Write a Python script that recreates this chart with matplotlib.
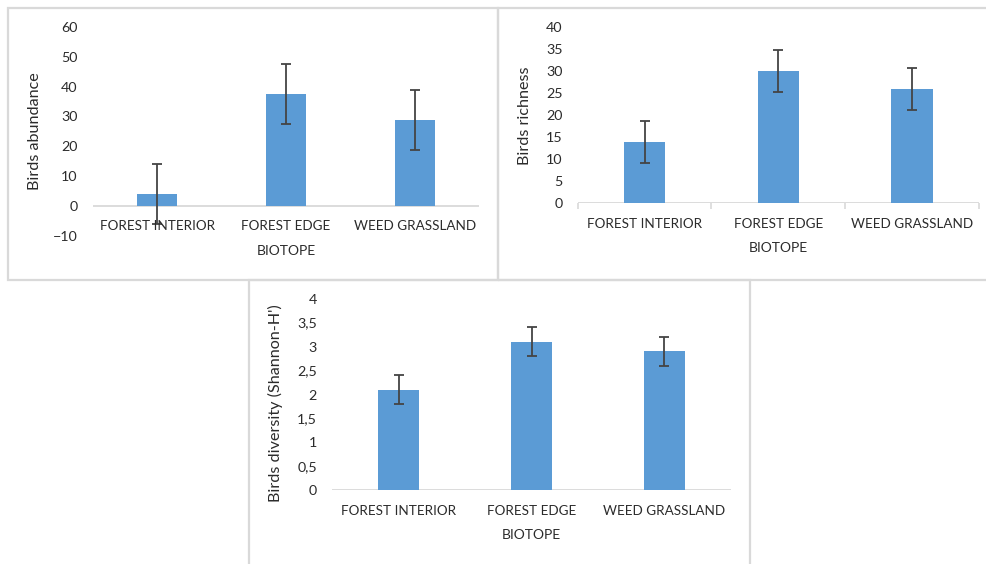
import matplotlib.pyplot as plt
from matplotlib.patches import Rectangle
from matplotlib.ticker import FuncFormatter

# data
biotopes = ["FOREST INTERIOR", "FOREST EDGE", "WEED GRASSLAND"]
abundance = [4, 37.5, 28.7]
abundance_err = [10, 10, 10]
richness = [14, 30, 26]
richness_err = [4.8, 4.8, 4.8]
diversity = [2.1, 3.1, 2.9]
diversity_err = [0.3, 0.3, 0.3]

BAR = "#5B9BD5"
TXT = "#2b2b2b"
GRID = "#d9d9d9"
plt.rcParams["font.family"] = ["Lato", "DejaVu Sans"]

W, H = 986, 564
fig = plt.figure(figsize=(W / 100, H / 100), dpi=100)


def px_box(x0, y0, x1, y1):
    # pixel box (top-left origin) -> figure fraction rect
    return [x0 / W, 1 - y1 / H, (x1 - x0) / W, (y1 - y0) / H]


# panel frames
for x0, y0, x1, y1 in [(8, 8, 498, 280), (498, 8, 990, 280), (249, 280, 750, 570)]:
    fig.patches.append(Rectangle((x0 / W, 1 - y1 / H), (x1 - x0) / W, (y1 - y0) / H,
                                 transform=fig.transFigure, fill=False,
                                 edgecolor=GRID, linewidth=1.6, zorder=0))


def panel(rect, values, errs, ylim, step, ylabel, ylab_x, ylab_y=0.5, ticks=False, comma=False):
    ax = fig.add_axes(rect)
    x = range(len(biotopes))
    ax.bar(x, values, width=0.31, color=BAR, zorder=2)
    ax.errorbar(x, values, yerr=errs, fmt="none", ecolor="#444444", elinewidth=1.3,
                capsize=3.5, capthick=1.3, zorder=3)
    ax.axhline(0, color=GRID, linewidth=1.3, zorder=1)
    ax.set_xlim(-0.5, 2.5)
    ax.set_ylim(*ylim)
    yt = []
    v = ylim[0]
    while v <= ylim[1] + 1e-9:
        yt.append(round(v, 3))
        v += step
    ax.set_yticks(yt)
    if comma:
        ax.yaxis.set_major_formatter(FuncFormatter(lambda v, p: ("%g" % v).replace(".", ",")))
    ax.tick_params(axis="y", length=0, pad=11, labelsize=10.3, labelcolor=TXT)
    ax.set_xticks([])
    if ticks:
        ax.set_xticks([-0.5, 0.5, 1.5, 2.5], minor=True)
        ax.tick_params(axis="x", which="minor", length=4, width=1.2, color=GRID, direction="out")
    for s in ax.spines.values():
        s.set_visible(False)
    for i, name in enumerate(biotopes):
        ax.annotate(name, (i, 0), xytext=(0, -14.8), textcoords="offset points",
                    ha="center", va="center", fontsize=9.7, color=TXT, annotation_clip=False)
    ax.annotate("BIOTOPE", (1, 0), xytext=(0, -32.5), textcoords="offset points",
                ha="center", va="center", fontsize=10, color=TXT, annotation_clip=False)
    ax.set_ylabel(ylabel, fontsize=11.6, color=TXT)
    ax.yaxis.set_label_coords(ylab_x, ylab_y)
    ax.patch.set_alpha(0)
    return ax


panel(px_box(93, 27, 479, 235.5), abundance, abundance_err, (-10, 60), 10,
      "Birds abundance", -0.133)
panel(px_box(577.7, 27.3, 979, 203.3), richness, richness_err, (0, 40), 5,
      "Birds richness", -0.113, ticks=True)
panel(px_box(332.3, 298.7, 730.7, 490.3), diversity, diversity_err, (0, 4), 0.5,
      "Birds diversity (Shannon-H')", -0.1245, 0.457, comma=True)

fig.savefig("out.png", dpi=100, facecolor="white")
